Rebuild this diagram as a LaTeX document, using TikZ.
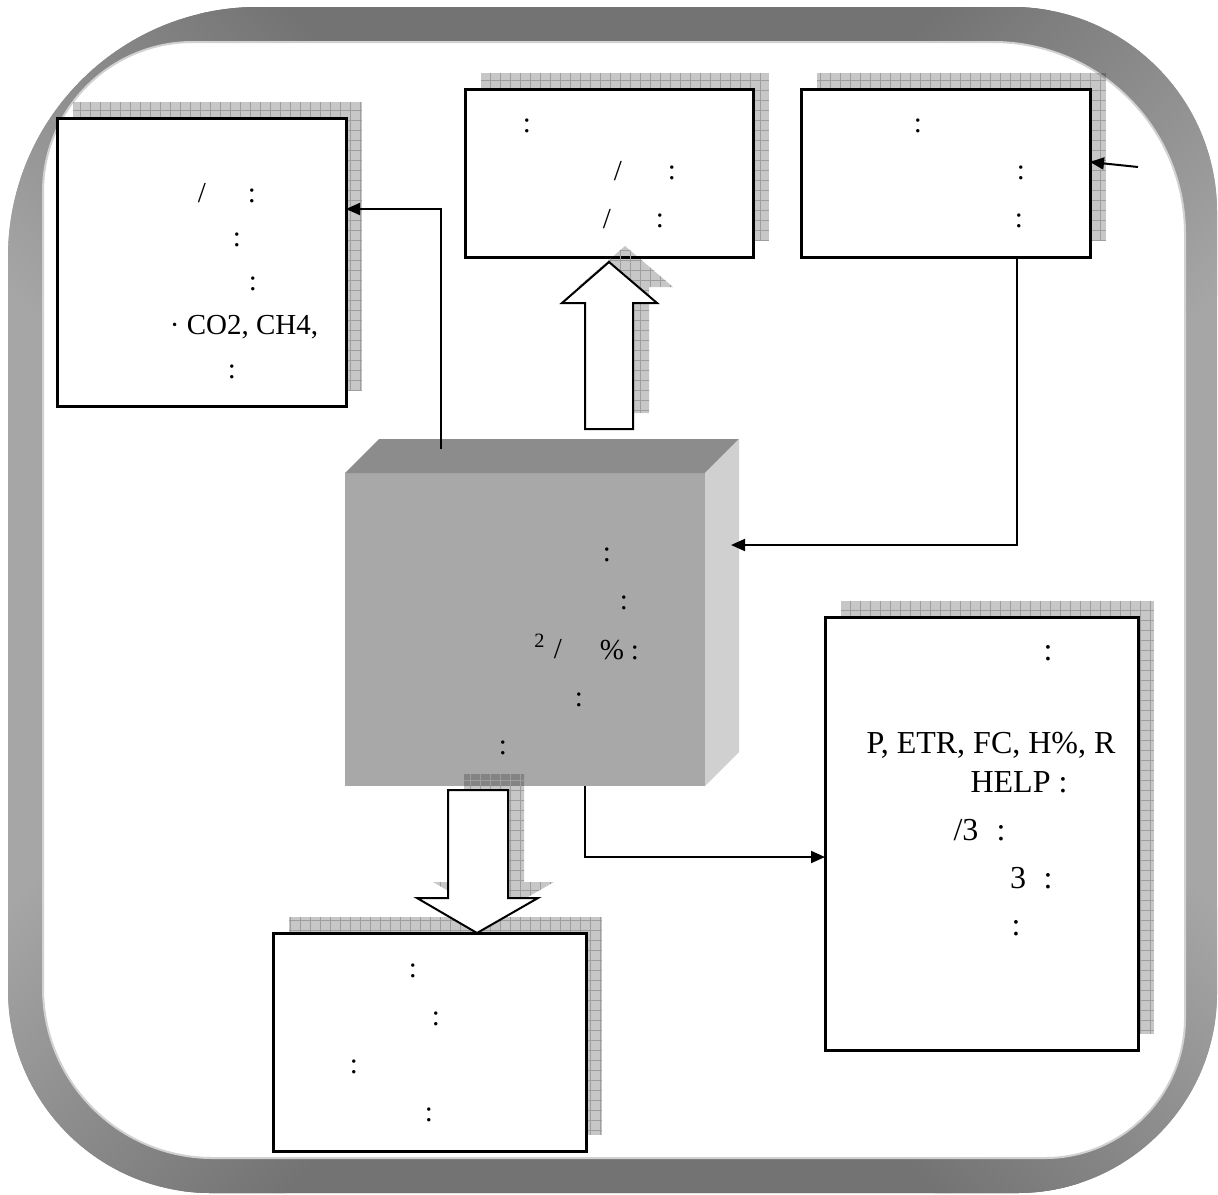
\documentclass[tikz,border=0pt]{standalone}
\usepackage{fontspec}
\setmainfont{Liberation Serif}
\usetikzlibrary{arrows.meta}
\definecolor{framedark}{HTML}{737373}
\definecolor{framelight}{HTML}{A6A6A6}
\definecolor{cubefront}{HTML}{A8A8A8}
\definecolor{cubetop}{HTML}{8C8C8C}
\definecolor{cubeside}{HTML}{D0D0D0}

\begin{document}
\begin{tikzpicture}[x=0.5pt, y=-0.5pt,
  box/.style={draw, line width=1.5pt, fill=white, inner sep=0pt, outer sep=0pt},
  conn/.style={line width=1pt, -{Triangle[length=7pt,width=6pt]}},
  gridshadow/.style={fill=black, fill opacity=0.22, path picture={\draw[black!38, line width=0.3pt, step=5pt] (path picture bounding box.south west) grid (path picture bounding box.north east);}},
  blockarrow/.style={draw, line width=1pt, fill=white},
  frag/.style={anchor=base, inner sep=0pt, font=\fontsize{14.5}{17}\selectfont},
  bigfrag/.style={frag, font=\fontsize{16}{19}\selectfont}]
\useasboundingbox (0,0) rectangle (1218,1194);

\begin{scope}[even odd rule]
\clip (258,7) -- (1012,7) arc[start angle=-90, end angle=0, radius=205] -- (1217,993) arc[start angle=0, end angle=90, radius=200]
  -- (211,1193) arc[start angle=90, end angle=180, radius=203] -- (8,257) arc[start angle=180, end angle=270, radius=250] -- cycle
  (193,42) -- (993,42) arc[start angle=-90, end angle=0, radius=192] -- (1185,1018) arc[start angle=0, end angle=90, radius=140]
  -- (213,1158) arc[start angle=90, end angle=180, radius=170] -- (43,192) arc[start angle=180, end angle=270, radius=150] -- cycle;
\fill[framelight] (0,0) rectangle (1218,1194);
\fill[framedark] (200,0) rectangle (1050,50);
\fill[framedark] (180,1150) rectangle (1080,1194);
\begin{scope}[transform canvas={rotate around={45:(120,120)}}]
\shade[left color=framelight, right color=framedark] (-80,-80) rectangle (320,320);
\end{scope}
\begin{scope}[transform canvas={rotate around={-45:(1100,130)}}]
\shade[left color=framedark, right color=framelight] (900,-70) rectangle (1300,330);
\end{scope}
\begin{scope}[transform canvas={rotate around={-45:(120,1075)}}]
\shade[left color=framelight, right color=framedark] (-80,875) rectangle (320,1275);
\end{scope}
\begin{scope}[transform canvas={rotate around={45:(1100,1075)}}]
\shade[left color=framedark, right color=framelight] (900,875) rectangle (1300,1275);
\end{scope}
\end{scope}
\draw[black!18, line width=1pt] (193,42) -- (993,42) arc[start angle=-90, end angle=0, radius=192] -- (1185,1018) arc[start angle=0, end angle=90, radius=140]
  -- (213,1158) arc[start angle=90, end angle=180, radius=170] -- (43,192) arc[start angle=180, end angle=270, radius=150] -- cycle;

\path[gridshadow] (73,102) rectangle (362,390);
\path[gridshadow] (481,73) rectangle (769,241);
\path[gridshadow] (817,73) rectangle (1106,241);
\path[gridshadow] (289,917) rectangle (602,1135);
\path[gridshadow] (841,601) rectangle (1154,1034);

\node[box, minimum width=144.5pt, minimum height=144pt] (topleft) at (201.5,262) {};
\node[box, minimum width=144pt, minimum height=84pt] (topmid) at (609,173) {};
\node[box, minimum width=144.5pt, minimum height=84pt] (topright) at (945.5,173) {};
\node[box, minimum width=156.5pt, minimum height=109pt] (bottom) at (429.5,1042) {};
\node[box, minimum width=156.5pt, minimum height=216.5pt] (right) at (981.5,833.5) {};

\node[fill=cubefront, minimum width=180pt, minimum height=156.5pt, inner sep=0pt, outer sep=0pt] (cube) at (525,629.5) {};
\fill[cubetop] (cube.north west) -- ++(34,-34) -- ++(360,0) -- (cube.north east) -- cycle;
\fill[cubeside] (cube.north east) -- ++(34,-34) -- ++(0,313) -- (cube.south east) -- cycle;

\path[gridshadow] (601,413) -- (601,287) -- (578,287) -- (625,246) -- (673,287) -- (649,287) -- (649,413) -- cycle;
\draw[blockarrow] (585,429) -- (585,303) -- (562,303) -- (609,262) -- (657,303) -- (633,303) -- (633,429) -- cycle;
\path[gridshadow] (464,774) -- (464,882) -- (433,882) -- (493,917) -- (554,882) -- (524,882) -- (524,774) -- cycle;
\draw[blockarrow] (448,790) -- (448,898) -- (417,898) -- (477,933) -- (538,898) -- (508,898) -- (508,790) -- cycle;

\coordinate (feed) at (1138,167);
\coordinate (cubein) at (731,545);
\draw[conn] (feed) -- ([yshift=5.5pt]topright.east);
\draw[conn] ([xshift=35.75pt]topright.south) |- (cubein);
\draw[conn] ([xshift=48pt,yshift=12pt]cube.north west) |- ([yshift=26.5pt]topleft.east);
\draw[conn] ([xshift=30pt]cube.south) |- ([yshift=-11.75pt]right.west);

\foreach \x/\y/\t [count=\i] in {202/202/{/}, 252/202/{:}, 237/246/{:}, 253/290/{:}, 244/334/{· CO2, CH4,}, 232/378/{:},
  527/132/{:}, 618/180/{/}, 672/179/{:}, 607/228/{/}, 660/227/{:},
  918/132/{:}, 1021/179/{:}, 1019/227/{:},
  607/561/{:}, 624/609/{:}, 540/658/{\textsuperscript{2}}, 558/658/{/}, 612/659/{\%}, 635/659/{:}, 579/706/{:}, 503/754/{:},
  413/977/{:}, 436/1025/{:}, 354/1073/{:}, 429/1121/{:}}
  \node[frag] (t\i) at (\x,\y) {\t};
\foreach \x/\y/\t [count=\i] in {1048/660/{:}, 991/753/{P, ETR, FC, H\%, R}, 1019/792/{HELP :}, 966/840/{/3}, 1001/840/{:}, 1018/888/{3}, 1048/888/{:}, 1016/935/{:}}
  \node[bigfrag] (e\i) at (\x,\y) {\t};
\end{tikzpicture}
\end{document}
